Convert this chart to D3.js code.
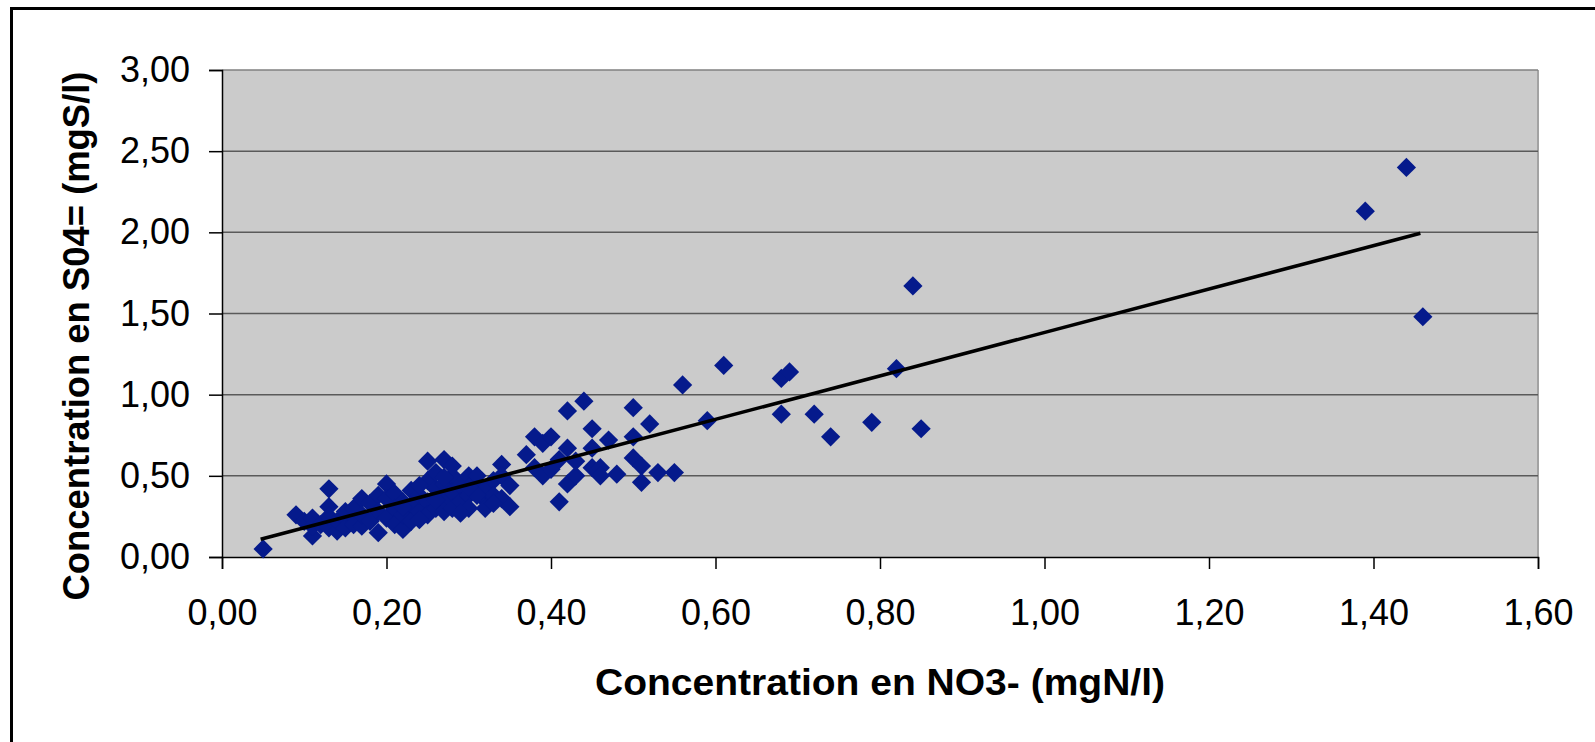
<!DOCTYPE html>
<html>
<head>
<meta charset="utf-8">
<script src="https://cdn.jsdelivr.net/npm/d3@7"></script>
<style>
  html, body { margin: 0; padding: 0; background: #fff; }
  svg { display: block; font-family: "Liberation Sans", Arial, sans-serif; }
</style>
</head>
<body>
<div id="chart"></div>
<script>
// NO3- (mgN/l) values
const no3 = [
  0.05, 0.09, 0.10, 0.11, 0.11, 0.11, 0.12, 0.13, 0.13, 0.13,
  0.13, 0.14, 0.14, 0.15, 0.15, 0.15, 0.16, 0.16, 0.17, 0.17,
  0.17, 0.18, 0.18, 0.19, 0.19, 0.19, 0.20, 0.20, 0.20, 0.21,
  0.21, 0.21, 0.22, 0.22, 0.22, 0.23, 0.23, 0.23, 0.24, 0.24,
  0.25, 0.25, 0.25, 0.25, 0.26, 0.26, 0.26, 0.27, 0.27, 0.27,
  0.27, 0.28, 0.28, 0.28, 0.28, 0.29, 0.29, 0.30, 0.30, 0.30,
  0.31, 0.31, 0.32, 0.32, 0.32, 0.33, 0.33, 0.34, 0.34, 0.34,
  0.35, 0.37, 0.38, 0.38, 0.39, 0.39, 0.40, 0.40, 0.41, 0.41,
  0.42, 0.42, 0.42, 0.43, 0.43, 0.44, 0.45, 0.45, 0.45, 0.46,
  0.46, 0.47, 0.48, 0.50, 0.50, 0.50, 0.51, 0.51, 0.52, 0.53,
  0.55, 0.56, 0.59, 0.61, 0.68, 0.69, 0.68, 0.72, 0.74, 0.79,
  0.82, 0.84, 0.85, 1.39, 1.44, 1.46,
  0.22, 0.24, 0.26, 0.29, 0.31, 0.33, 0.30, 0.27, 0.24, 0.35
];
// SO4= (mgS/l) values, same order
const so4 = [
  0.05, 0.26, 0.22, 0.24, 0.13, 0.19, 0.20, 0.42, 0.31, 0.18,
  0.25, 0.16, 0.22, 0.24, 0.18, 0.28, 0.20, 0.30, 0.36, 0.19,
  0.26, 0.33, 0.22, 0.38, 0.15, 0.28, 0.45, 0.36, 0.24, 0.39,
  0.30, 0.20, 0.17, 0.26, 0.34, 0.41, 0.32, 0.22, 0.28, 0.38,
  0.59, 0.47, 0.34, 0.26, 0.42, 0.30, 0.52, 0.60, 0.45, 0.36,
  0.28, 0.50, 0.40, 0.30, 0.56, 0.44, 0.34, 0.50, 0.38, 0.30,
  0.45, 0.50, 0.35, 0.42, 0.30, 0.47, 0.38, 0.57, 0.50, 0.36,
  0.44, 0.63, 0.74, 0.55, 0.70, 0.50, 0.74, 0.54, 0.34, 0.60,
  0.90, 0.67, 0.45, 0.50, 0.59, 0.96, 0.79, 0.67, 0.55, 0.55,
  0.50, 0.72, 0.51, 0.92, 0.74, 0.61, 0.56, 0.46, 0.82, 0.52,
  0.52, 1.06, 0.84, 1.18, 1.10, 1.14, 0.88, 0.88, 0.74, 0.83,
  1.16, 1.67, 0.79, 2.13, 2.40, 1.48,
  0.31, 0.44, 0.35, 0.27, 0.38, 0.33, 0.43, 0.49, 0.23, 0.31
];

// linear trend, end points
const trendX = [0.047, 1.457];
const trendY = [0.109, 1.994];

const xTicks = [0, 0.2, 0.4, 0.6, 0.8, 1.0, 1.2, 1.4, 1.6];
const yTicks = [0, 0.5, 1.0, 1.5, 2.0, 2.5, 3.0];

const xTitle = 'Concentration en NO3- (mgN/l)';
const yTitle = 'Concentration en S04= (mgS/l)';

const width = 1595, height = 742;
const plot = { left: 222, right: 1538, top: 70, bottom: 557 };
const frFmt = d => d.toFixed(2).replace('.', ',');

const svg = d3.select('#chart').append('svg')
    .attr('width', width)
    .attr('height', height);

// outer frame (runs off the right and bottom edges)
svg.append('rect')
    .attr('x', 11.5).attr('y', 8.5)
    .attr('width', 1620).attr('height', 800)
    .attr('fill', '#fff')
    .attr('stroke', '#000')
    .attr('stroke-width', 3);

const x = d3.scaleLinear().domain([0, 1.6]).range([plot.left, plot.right]);
const y = d3.scaleLinear().domain([0, 3]).range([plot.bottom, plot.top]);

// plot area
svg.append('rect')
    .attr('x', plot.left).attr('y', plot.top)
    .attr('width', plot.right - plot.left)
    .attr('height', plot.bottom - plot.top)
    .attr('fill', '#cbcbcb');

svg.append('line')
    .attr('x1', plot.right).attr('x2', plot.right)
    .attr('y1', plot.top).attr('y2', plot.bottom)
    .attr('stroke', '#a3a3a3').attr('stroke-width', 2);

// gridlines
svg.append('g').selectAll('line')
    .data(yTicks.filter(d => d > 0))
    .enter().append('line')
    .attr('x1', plot.left).attr('x2', plot.right)
    .attr('y1', d => y(d)).attr('y2', d => y(d))
    .attr('stroke', d => d === 3 ? '#808080' : '#5a5a5a')
    .attr('stroke-width', 1.5);

// axes
const yAxis = svg.append('g')
    .attr('transform', `translate(${plot.left},0)`)
    .call(d3.axisLeft(y).tickValues(yTicks).tickFormat(frFmt).tickSize(13).tickPadding(19));

const xAxis = svg.append('g')
    .attr('transform', `translate(0,${plot.bottom})`)
    .call(d3.axisBottom(x).tickValues(xTicks).tickFormat(frFmt).tickSize(12).tickPadding(30));

[xAxis, yAxis].forEach(a => {
    a.select('.domain').attr('stroke', '#000').attr('stroke-width', 1.5);
    a.selectAll('.tick line').attr('stroke', '#000').attr('stroke-width', 1.5);
    a.selectAll('.tick text')
        .attr('fill', '#000')
        .style('font-size', '36px')
        .style('font-family', '"Liberation Sans", Arial, sans-serif');
});

// points
const points = no3.map((v, i) => ({ x: v, y: so4[i] }));
const diamond = d3.symbol().type(d3.symbolSquare).size(185);

svg.append('g').selectAll('path')
    .data(points)
    .enter().append('path')
    .attr('d', diamond)
    .attr('transform', d => `translate(${x(d.x)},${y(d.y)}) rotate(45)`)
    .attr('fill', '#051a8c');

// trend line
const trend = trendX.map((v, i) => ({ x: v, y: trendY[i] }));
svg.append('path')
    .datum(trend)
    .attr('d', d3.line().x(d => x(d.x)).y(d => y(d.y)))
    .attr('fill', 'none')
    .attr('stroke', '#000')
    .attr('stroke-width', 3.6);

// axis titles
svg.append('text')
    .attr('x', 880)
    .attr('y', 695)
    .attr('text-anchor', 'middle')
    .attr('textLength', 570)
    .attr('lengthAdjust', 'spacingAndGlyphs')
    .style('font-size', '36px')
    .style('font-weight', 'bold')
    .text(xTitle);

svg.append('text')
    .attr('transform', 'translate(89,336) rotate(-90)')
    .attr('text-anchor', 'middle')
    .attr('textLength', 529)
    .attr('lengthAdjust', 'spacingAndGlyphs')
    .style('font-size', '36px')
    .style('font-weight', 'bold')
    .text(yTitle);
</script>
</body>
</html>
